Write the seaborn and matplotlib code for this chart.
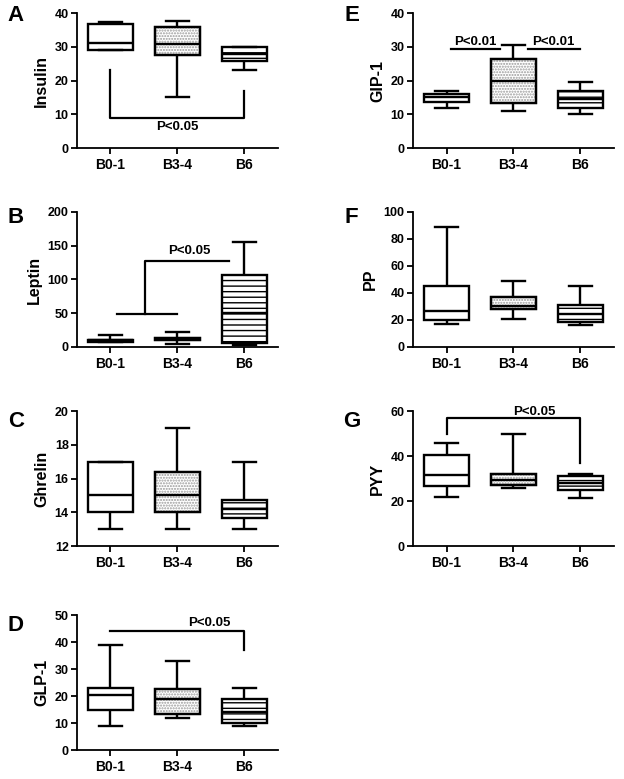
import matplotlib
matplotlib.use("Agg")
import matplotlib.pyplot as plt
import numpy as np
import pandas as pd
import seaborn as sns
from matplotlib.patches import PathPatch

# five-number summaries per group: min, q1, median, q3, max
groups = ["B0-1", "B3-4", "B6"]
insulin = [[29, 29, 31, 36.8, 37.2], [15, 27.5, 30.7, 36, 37.5], [23, 25.8, 28, 30, 30]]
leptin = [[7, 8, 10, 11, 17], [5, 10, 12, 14, 22], [3, 6, 50, 106, 155]]
ghrelin = [[13, 14, 15, 17, 17], [13, 14, 15, 16.4, 19], [13, 13.65, 14.2, 14.75, 17]]
glp1 = [[9, 15, 20.5, 23, 39], [12, 13.5, 19, 22.5, 33], [9, 10, 14, 19, 23]]
gip1 = [[12, 13.5, 15, 16, 17], [11, 13.2, 19.8, 26.5, 30.5], [10, 12, 14.5, 16.8, 19.5]]
pp = [[17, 20, 26.5, 45, 89], [21, 28, 30, 37, 49], [16.5, 18.5, 24.5, 31, 45]]
pyy = [[22, 26.5, 31.5, 40.5, 46], [26, 27, 29.5, 32, 50], [21.5, 25, 28, 31, 32]]

letters = ["A", "B", "C", "D", "E", "F", "G"]
ylabels = ["Insulin", "Leptin", "Ghrelin", "GLP-1", "GIP-1", "PP", "PYY"]
values = [insulin, leptin, ghrelin, glp1, gip1, pp, pyy]
ylims = [(0, 40), (0, 200), (12, 20), (0, 50), (0, 40), (0, 100), (0, 60)]
ysteps = [10, 50, 2, 10, 10, 20, 20]

# significance brackets: line segments, label positions, label text
brackets = {
    "A": ([[0, 0, 2, 2]], [[23, 9, 9, 17]], [(1, 6.2)], "P<0.05"),
    "B": ([[0.1, 1.0], [0.52, 0.52, 1.77]], [[49, 49], [49, 128, 128]], [(1.17, 142)], "P<0.05"),
    "D": ([[0, 2, 2]], [[44, 44, 37]], [(1.47, 47.2)], "P<0.05"),
    "E": ([[0.07, 0.8], [1.21, 1.99]], [[29.2, 29.2], [29.2, 29.2]], [(0.43, 31.3), (1.6, 31.3)], "P<0.01"),
    "G": ([[0, 0, 2, 2]], [[50, 57, 57, 37]], [(1.31, 59.8)], "P<0.05"),
}

plt.rcParams["font.family"] = ["Liberation Sans", "DejaVu Sans"]
plt.rcParams["font.weight"] = "bold"
plt.rcParams["hatch.linewidth"] = 1.0

fig = plt.figure(figsize=(6.24, 7.79), dpi=100)
lefts = [0.1234] * 4 + [0.6619] * 3
bottoms = [0.81, 0.5546, 0.299, 0.0372, 0.81, 0.5546, 0.299]
letter_y = [0.978, 0.956, 0.92, 0.926, 0.978, 0.956, 0.92]
hatches = [None, "......", "---"]

for i, letter in enumerate(letters):
    ax = fig.add_axes([lefts[i], bottoms[i], 0.322, 0.1733])
    df = pd.DataFrame({
        "group": np.repeat(groups, 5),
        "value": np.concatenate(values[i]),
    })
    sns.boxplot(data=df, x="group", y="value", order=groups, whis=(0, 100),
                color="white", linecolor="black", linewidth=1.7, width=0.67,
                fliersize=0, ax=ax)
    for patch, h in zip(list(ax.patches), hatches):
        patch.set_facecolor("white")
        if h == "......":
            # grey dots, black outline on top
            patch.set_hatch(h)
            patch.set_edgecolor("#9a9a9a")
            outline = PathPatch(patch.get_path(), transform=patch.get_transform(),
                                facecolor="none", edgecolor="black", lw=1.7,
                                zorder=patch.get_zorder() + 0.01)
            ax.add_patch(outline)
        elif h:
            patch.set_hatch(h)
    ax.set_xlim(-0.5, 2.5)
    lo, hi = ylims[i]
    ax.set_ylim(lo, hi)
    ax.set_yticks(np.arange(lo, hi + 0.01, ysteps[i]))
    ax.set_xlabel("")
    ax.set_ylabel(ylabels[i], fontsize=11.5, fontweight="bold", labelpad=4)
    sns.despine(ax=ax)
    for side in ["left", "bottom"]:
        ax.spines[side].set_linewidth(1.3)
    ax.tick_params(axis="x", labelsize=10, width=1.3, length=4)
    ax.tick_params(axis="y", labelsize=9, width=1.3, length=4, pad=2)
    for lab in ax.get_xticklabels() + ax.get_yticklabels():
        lab.set_fontweight("bold")
    ax.text(-0.305, letter_y[i], letter, transform=ax.transAxes,
            fontsize=16, fontweight="bold", ha="center", va="center")
    if letter in brackets:
        xs, ys, labpos, txt = brackets[letter]
        for bx, by in zip(xs, ys):
            ax.plot(bx, by, color="black", lw=1.6, clip_on=False)
        for tx, ty in labpos:
            ax.text(tx, ty, txt, ha="center", va="center", fontsize=9.5, fontweight="bold")

fig.savefig("out.png", dpi=100)
